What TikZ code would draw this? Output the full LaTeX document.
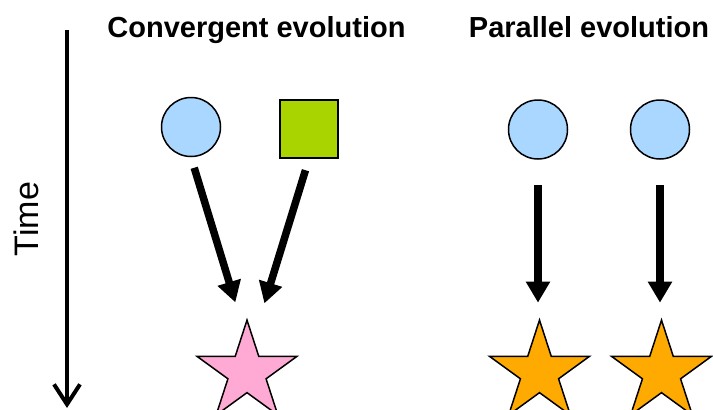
\documentclass[tikz,border=0pt]{standalone}
\usepackage{fontspec}
\setmainfont{Liberation Sans}
\usetikzlibrary{shapes.geometric,arrows.meta}
\definecolor{cellblue}{RGB}{170,215,255}
\definecolor{leafgreen}{RGB}{170,212,0}
\definecolor{starpink}{RGB}{255,170,212}
\definecolor{starorange}{RGB}{255,170,0}
\begin{document}
\begin{tikzpicture}[x=1pt,y=-1pt,
    blob/.style={circle,draw,line width=1.5pt,fill=cellblue,minimum size=59pt,inner sep=0pt},
    box/.style={rectangle,draw,line width=1.5pt,fill=leafgreen,minimum size=58pt,inner sep=0pt},
    startip/.style={star,star points=5,star point ratio=2.618,draw,line width=1.5pt,minimum size=105pt,inner sep=0pt},
    fat/.style={line width=7.5pt,-{Triangle[width=23pt,length=21pt]}},
    heading/.style={anchor=base,font=\fontsize{29}{34}\selectfont\bfseries}]
    \useasboundingbox (0,0) rectangle (713,410);

    % time axis
    \coordinate (t0) at (67,30);
    \coordinate (t1) at (67,408);
    \draw[line width=4pt,-{Straight Barb[length=20pt,width=26pt,line width=4pt]}] (t0) -- (t1);
    \node[rotate=90,font=\fontsize{34}{40}\selectfont] (time) at (26,219) {Time};

    % convergent evolution
    \node[heading] (convtitle) at (256.5,37) {Convergent evolution};
    \node[blob] (ca) at (191,127) {};
    \node[box] (cb) at (309,129) {};
    \node[startip,fill=starpink] (cs) at (247,372.6) {};
    \draw[fat,shorten <=11pt,shorten >=16pt] (ca.south) -- ([xshift=-7pt]cs.north);
    \draw[fat,shorten <=12pt,shorten >=15pt] (cb.south) -- ([xshift=13pt]cs.north);

    % parallel evolution
    \node[heading] (partitle) at (589,37) {Parallel evolution};
    \node[blob] (pa) at (538,129.5) {};
    \node[blob] (pb) at (660,129.5) {};
    \node[startip,fill=starorange] (psa) at (539.5,372.6) {};
    \node[startip,fill=starorange] (psb) at (661.5,372.6) {};
    \draw[fat,shorten <=25pt,shorten >=15pt] (pa.south) -- (psa.north-|pa.south);
    \draw[fat,shorten <=25pt,shorten >=15pt] (pb.south) -- (psb.north-|pb.south);
\end{tikzpicture}
\end{document}
